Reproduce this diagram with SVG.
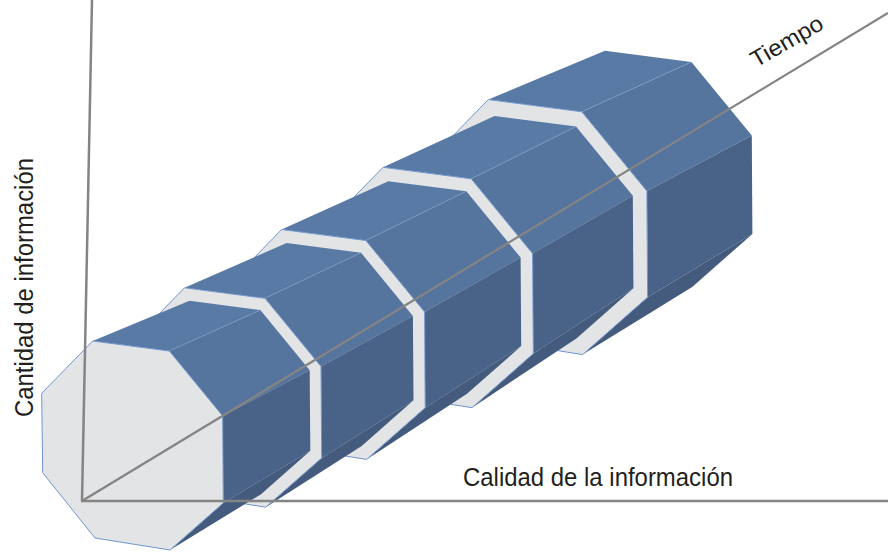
<svg xmlns="http://www.w3.org/2000/svg" width="888" height="552" viewBox="0 0 888 552">
<style>
.top{fill:#5A7AA6}
.ur{fill:#55749E}
.r{fill:#496287}
.lr{fill:#445B7E}
.front{fill:#E3E4E6;stroke:#7096CE;stroke-width:1;stroke-linejoin:round}
.edge{stroke:#809CC4;stroke-width:0.7;fill:none}
.axis{stroke:#848484;fill:none;stroke-linecap:butt}
.lbl{font-family:"Liberation Sans",Arial,sans-serif;fill:#231F20}
</style>
<rect width="888" height="552" fill="#FFFFFF"/>
<g id="seg5">
<polygon class="top" points="488.3,99.6 581.8,111.8 691.4,62.1 604.9,50.8"/>
<polygon class="ur" points="581.8,111.8 646.9,191.1 751.8,135.6 691.4,62.1"/>
<polygon class="r" points="646.9,191.1 647.6,297.2 752.4,233.9 751.8,135.6"/>
<polygon class="lr" points="647.6,297.2 582.6,354.6 692.2,287.0 752.4,233.9"/>
<line class="edge" x1="581.8" y1="111.8" x2="691.4" y2="62.1"/>
<polygon class="front" points="488.3,99.6 581.8,111.8 646.9,191.1 647.6,297.2 582.6,354.6 491.1,339.9 427.3,260.3 426.1,163.4"/>
</g>
<g id="seg4">
<polygon class="top" points="383.1,167.3 471.2,178.8 576.0,126.6 494.5,115.9"/>
<polygon class="ur" points="471.2,178.8 532.6,253.6 632.8,195.7 576.0,126.6"/>
<polygon class="r" points="532.6,253.6 533.3,353.6 633.4,288.3 632.8,195.7"/>
<polygon class="lr" points="533.3,353.6 472.0,407.7 576.7,338.3 633.4,288.3"/>
<line class="edge" x1="471.2" y1="178.8" x2="576.0" y2="126.6"/>
<polygon class="front" points="383.1,167.3 471.2,178.8 532.6,253.6 533.3,353.6 472.0,407.7 385.7,393.9 325.6,318.8 324.4,227.5"/>
</g>
<g id="seg3">
<polygon class="top" points="281.6,229.5 365.8,240.5 466.3,191.3 388.3,181.2"/>
<polygon class="ur" points="365.8,240.5 424.6,312.0 520.6,257.5 466.3,191.3"/>
<polygon class="r" points="424.6,312.0 425.2,407.7 521.2,346.0 520.6,257.5"/>
<polygon class="lr" points="425.2,407.7 366.6,459.4 467.0,393.8 521.2,346.0"/>
<line class="edge" x1="365.8" y1="240.5" x2="466.3" y2="191.3"/>
<polygon class="front" points="281.6,229.5 365.8,240.5 424.6,312.0 425.2,407.7 366.6,459.4 284.1,446.2 226.6,374.4 225.5,287.1"/>
</g>
<g id="seg2">
<polygon class="top" points="184.5,287.8 265.0,298.3 361.0,252.7 286.6,243.0"/>
<polygon class="ur" points="265.0,298.3 321.0,366.5 412.9,315.9 361.0,252.7"/>
<polygon class="r" points="321.0,366.5 321.7,457.9 413.5,400.3 412.9,315.9"/>
<polygon class="lr" points="321.7,457.9 265.7,507.2 361.7,446.0 413.5,400.3"/>
<line class="edge" x1="265.0" y1="298.3" x2="361.0" y2="252.7"/>
<polygon class="front" points="184.5,287.8 265.0,298.3 321.0,366.5 321.7,457.9 265.7,507.2 186.9,494.6 132.0,426.1 131.0,342.7"/>
</g>
<g id="seg1">
<polygon class="top" points="92.7,341.0 169.3,351.0 260.3,310.1 189.5,300.8"/>
<polygon class="ur" points="169.3,351.0 222.7,416.0 309.7,370.2 260.3,310.1"/>
<polygon class="r" points="222.7,416.0 223.3,503.0 310.3,450.7 309.7,370.2"/>
<polygon class="lr" points="223.3,503.0 170.0,550.0 261.0,494.2 310.3,450.7"/>
<line class="edge" x1="169.3" y1="351.0" x2="260.3" y2="310.1"/>
<polygon class="front" points="92.7,341.0 169.3,351.0 222.7,416.0 223.3,503.0 170.0,550.0 95.0,538.0 42.7,472.7 41.7,393.3"/>
</g>
<g id="axes">
<line class="axis" x1="82" y1="501" x2="92" y2="0" stroke-width="2.5"/>
<line class="axis" x1="81" y1="501" x2="888" y2="501" stroke-width="2.7"/>
<line class="axis" x1="82" y1="501" x2="888" y2="13" stroke-width="2.2"/>
</g>
<g id="labels">
<text class="lbl" x="0" y="0" font-size="23" textLength="80" lengthAdjust="spacingAndGlyphs" transform="translate(756,68) rotate(-30)">Tiempo</text>
<text class="lbl" x="463" y="486" font-size="26" textLength="270" lengthAdjust="spacingAndGlyphs">Calidad de la información</text>
<text class="lbl" x="0" y="0" font-size="26" textLength="259" lengthAdjust="spacingAndGlyphs" transform="translate(33,417) rotate(-90)">Cantidad de información</text>
</g>
</svg>
